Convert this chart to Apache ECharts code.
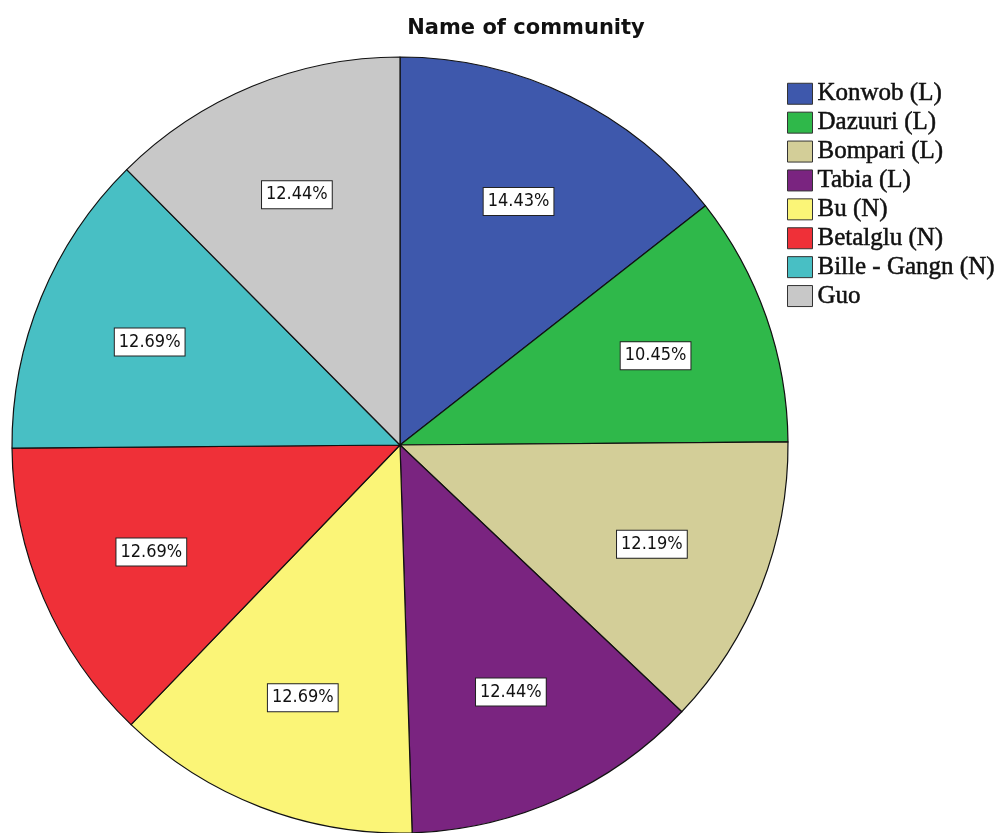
<!DOCTYPE html>
<html>
<head>
<meta charset="utf-8">
<script src="https://cdn.jsdelivr.net/npm/echarts@6/dist/echarts.min.js"></script>
<style>
html,body{margin:0;padding:0;background:#fff;}
#chart{width:1002px;height:833px;}
</style>
</head>
<body>
<div id="chart"></div>
<script>
var categories = ['Konwob (L)', 'Dazuuri (L)', 'Bompari (L)', 'Tabia (L)', 'Bu (N)', 'Betalglu (N)', 'Bille - Gangn (N)', 'Guo'];
var counts = [58, 42, 49, 50, 51, 51, 51, 50];
var colors = ['#3e58ac', '#2fb84a', '#d3ce98', '#7a2480', '#fbf577', '#ef3038', '#48bfc4', '#c8c8c8'];

var total = counts.reduce(function (a, b) { return a + b; }, 0);
var chart = echarts.init(document.getElementById('chart'), null, {renderer: 'canvas'});
var data = categories.map(function (c, i) {
  return {name: c, value: counts[i], itemStyle: {color: colors[i]}};
});
var labelData = categories.map(function (c, i) {
  return {name: c, value: counts[i]};
});
var center = [400, 445];
var R = 388;
chart.setOption({
  animation: false,
  title: {
    text: 'Name of community',
    left: 526, top: 18, textAlign: 'center', padding: 0,
    textStyle: {fontFamily: 'DejaVu Sans', fontSize: 21, fontWeight: 'bold', color: '#111'}
  },
  legend: {
    orient: 'vertical',
    left: 787, top: 81, padding: 0,
    itemWidth: 25, itemHeight: 21, itemGap: 3.4,
    icon: 'rect',
    data: categories,
    itemStyle: {borderColor: '#333', borderWidth: 1},
    textStyle: {fontFamily: 'Liberation Serif', fontSize: 25, color: '#111',
      textBorderColor: '#111', textBorderWidth: 0.5}
  },
  series: [{
    type: 'pie',
    center: center,
    radius: [0, R],
    startAngle: 90,
    clockwise: true,
    data: data,
    label: {show: false},
    labelLine: {show: false},
    itemStyle: {borderColor: '#111', borderWidth: 1.2},
    emphasis: {disabled: true}
  }, {
    type: 'pie',
    center: center,
    radius: [R * 0.38, R],
    startAngle: 90,
    clockwise: true,
    silent: true,
    legendHoverLink: false,
    data: labelData,
    itemStyle: {color: 'rgba(0,0,0,0)', borderWidth: 0},
    label: {
      show: true,
      position: 'inside',
      formatter: function (p) { return (p.value / total * 100).toFixed(2) + '%'; },
      fontFamily: 'DejaVu Sans Condensed, Liberation Sans',
      fontSize: 18,
      color: '#111',
      backgroundColor: '#fff',
      borderColor: '#222',
      borderWidth: 1,
      padding: [5, 4, 4, 4]
    },
    labelLine: {show: false},
    emphasis: {disabled: true}
  }]
});
</script>
</body>
</html>
